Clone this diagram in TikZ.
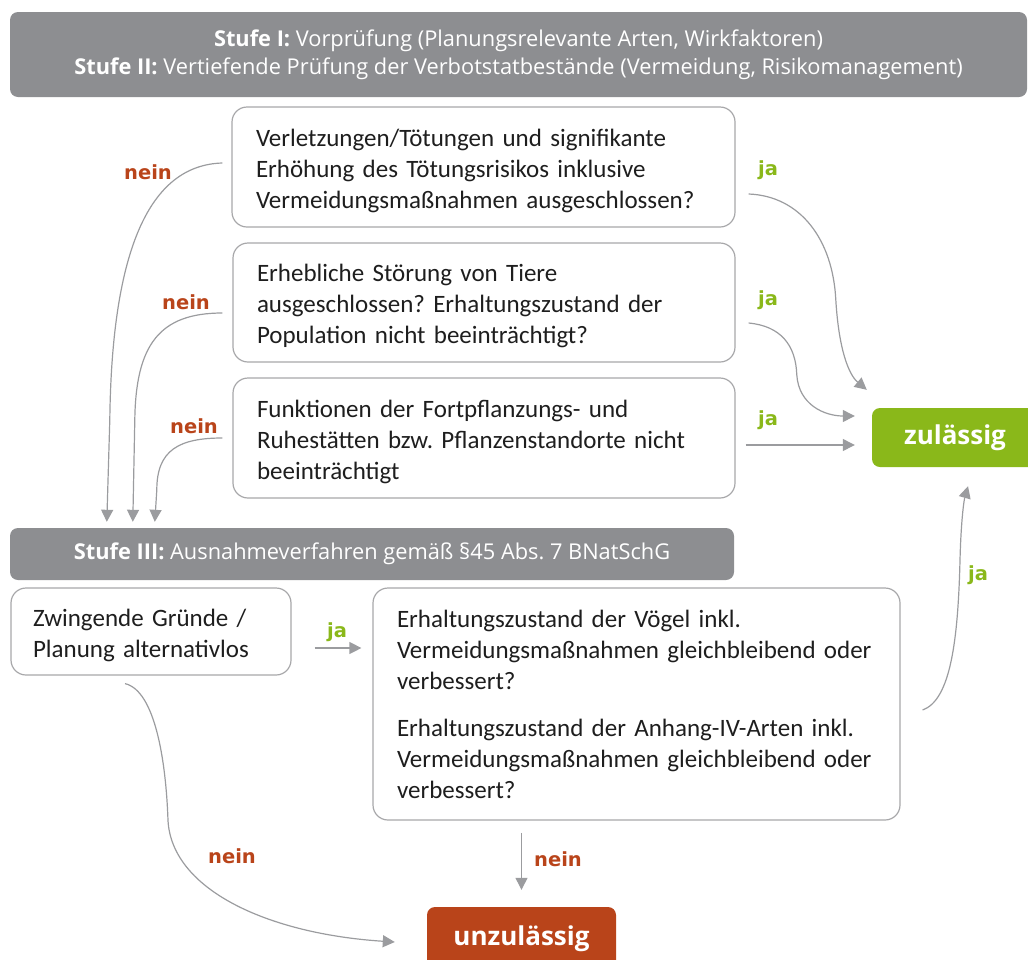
\documentclass[tikz,border=0pt]{standalone}
\usepackage{fontspec}
\setmainfont{Carlito}
\newfontfamily\headfont{Open Sans}
\newfontfamily\labfont{DejaVu Sans}
\usetikzlibrary{arrows.meta,calc}
\definecolor{bannergray}{RGB}{141,142,145}
\definecolor{boxline}{RGB}{168,168,170}
\definecolor{arrowgray}{RGB}{155,156,159}
\definecolor{okgreen}{RGB}{138,184,26}
\definecolor{nored}{RGB}{185,68,26}
\definecolor{txt}{RGB}{30,30,30}
\frenchspacing
\newcommand{\topstrut}{\rule{0pt}{25pt}}
\tikzset{
  banner/.style={fill=bannergray, rounded corners=8pt, text=white, align=center,
    font=\headfont\fontsize{21.8}{28}\selectfont, inner sep=0pt},
  qbox/.style={draw=boxline, line width=1.2pt, rounded corners=15pt, fill=white,
    align=left, text=txt, inner ysep=0pt, font=\fontsize{25}{31}\selectfont},
  result/.style={rounded corners=8pt, text=white, inner sep=0pt,
    font=\headfont\bfseries\fontsize{26}{30}\selectfont},
  conn/.style={draw=arrowgray, line width=1.2pt,
    -{Triangle[length=12pt,width=12pt]}, arrowgray},
  yes/.style={text=okgreen, font=\labfont\bfseries\fontsize{19.5}{20}\selectfont, inner sep=0pt},
  no/.style={text=nored, font=\labfont\bfseries\fontsize{19.5}{20}\selectfont, inner sep=0pt}
}
\begin{document}
\begin{tikzpicture}[x=1pt,y=-1pt]
\useasboundingbox (0,0) rectangle (1028,959);
% banners
\node[banner, minimum width=1017pt, minimum height=85pt] (s12) at (518.5,54.5)
  {\textbf{Stufe I:} Vorprüfung (Planungsrelevante Arten, Wirkfaktoren)\\
   \textbf{Stufe II:} Vertiefende Prüfung der Verbotstatbestände (Vermeidung, Risikomanagement)};
\node[banner, minimum width=724pt, minimum height=52pt] (s3) at (372,554)
  {\textbf{Stufe III:} Ausnahmeverfahren gemäß §45 Abs. 7 BNatSchG};
% question boxes
\node[qbox, text width=455pt, inner xsep=24pt, minimum height=120pt] (b1) at (483.5,167)
  {\topstrut Verletzungen/Tötungen und signifikante\\Erhöhung des Tötungsrisikos inklusive\\Vermeidungsmaßnahmen ausgeschlossen?};
\node[qbox, text width=454pt, inner xsep=24pt, minimum height=119pt] (b2) at (484,302.5)
  {\topstrut Erhebliche Störung von Tiere\\ausgeschlossen? Erhaltungszustand der\\Population nicht beeinträchtigt?};
\node[qbox, text width=454pt, inner xsep=24pt, minimum height=120pt] (b3) at (484,438)
  {\topstrut Funktionen der Fortpflanzungs- und\\Ruhestätten bzw. Pflanzenstandorte nicht\\beeinträchtigt};
\node[qbox, text width=236pt, inner xsep=22pt, minimum height=87pt] (zw) at (151,631.5)
  {\topstrut Zwingende Gründe /\\Planung alternativlos};
\node[qbox, text width=479pt, inner xsep=24pt, minimum height=232pt] (big) at (636.5,704)
  {Erhaltungszustand der Vögel inkl.\\Vermeidungsmaßnahmen gleichbleibend oder\\verbessert?\\[16pt]
   Erhaltungszustand der Anhang-IV-Arten inkl.\\Vermeidungsmaßnahmen gleichbleibend oder\\verbessert?};
% results
\node[result, fill=okgreen, minimum width=166pt, minimum height=59pt] (zul) at (955,437.5) {zulässig};
\node[result, fill=nored, minimum width=189pt, minimum height=64pt] (unz) at (521.5,939) {unzulässig};
% labels
\node[no] (n1) at (148,172) {nein};
\node[no] (n2) at (186,302) {nein};
\node[no] (n3) at (194,426) {nein};
\node[no] (n4) at (232,856) {nein};
\node[no] (n5) at (558,859) {nein};
\node[yes] (j1) at (768,170) {ja};
\node[yes] (j2) at (768,300) {ja};
\node[yes] (j3) at (768,420) {ja};
\node[yes] (j4) at (337,632) {ja};
\node[yes] (j5) at (978,575) {ja};
% nein connectors to Stufe III
\draw[conn] ($(b1.west)+(-9,-4)$) .. controls +(-73,2) and +(2,-170) .. ($(s3.north west)+(100,-108)$) -- ($(s3.north west)+(97,-6)$);
\draw[conn] ($(b2.west)+(-10,10.5)$) .. controls +(-63,0) and +(1,-75) .. ($(s3.north west)+(125,-108)$) -- ($(s3.north west)+(123,-6)$);
\draw[conn] ($(b3.west)+(-10,0)$) .. controls +(-43,0) and +(0,-40) .. ($(s3.north west)+(147,-38)$) -- ($(s3.north west)+(145,-6)$);
% ja connectors to zulaessig
\draw[conn] ($(b1.east)+(13,27)$) .. controls +(52,2) and +(-3,-60) .. ($(zul.north west)+(-36,-108)$) .. controls +(3,50) and +(-18,-15) .. ($(zul.north west)+(-5,-18)$);
\draw[conn] ($(b2.east)+(13,20.5)$) .. controls +(32,3) and +(-1,-30) .. ($(zul.west)+(-75,-62.5)$) .. controls +(2,30) and +(-30,0) .. ($(zul.west)+(-17,-21.5)$);
\draw[conn] ($(b3.east)+(10,7)$) -- ($(zul.west)+(-17,7.5)$);
\draw[conn] ($(big.east)+(22,6)$) .. controls +(28,-10) and +(-2,80) .. ($(zul.south)+(5,93)$) .. controls +(1,-40) and +(-4,14) .. ($(zul.south)+(13,19)$);
% Stufe III connectors
\draw[conn] ($(zw.east)+(23,16.5)$) -- ($(big.west)+(-11,-56)$);
\draw[conn] ($(zw.south)+(-26,8)$) .. controls +(30,7) and +(-2,-60) .. ($(zw.south)+(17,145)$) .. controls +(4,70) and +(-125,-8) .. ($(unz.west)+(-32,3)$);
\draw[conn] ($(unz.north)+(0,-74)$) -- ($(unz.north)+(0,-17)$);
\end{tikzpicture}
\end{document}
